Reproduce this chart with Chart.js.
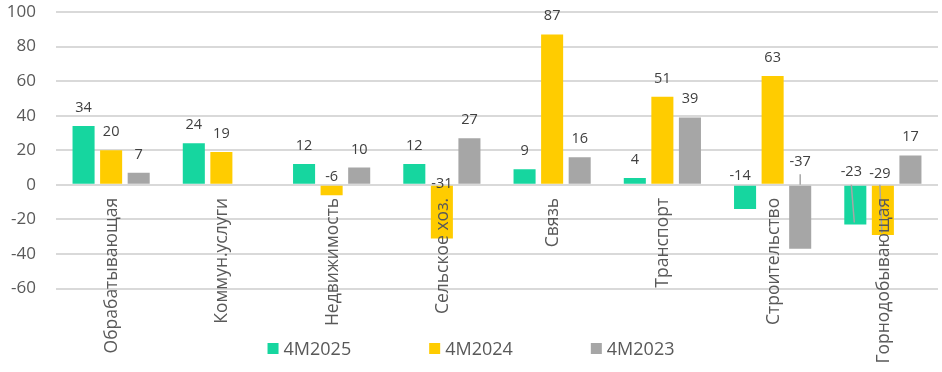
<!DOCTYPE html>
<html lang="ru">
<head>
    <meta charset="UTF-8">
    <title>4M2025 / 4M2024 / 4M2023</title>
    <style>
        * { box-sizing: border-box; margin: 0; padding: 0; }
        body { background: #ffffff; width: 942px; height: 372px; overflow: hidden; }
        .wrap { position: relative; width: 942px; height: 372px; }
    </style>
</head>
<body>
<div class="wrap">
    <canvas id="chart" width="942" height="372"></canvas>
</div>

<script src="https://cdn.jsdelivr.net/npm/chart.js"></script>
<script>
    // Data
    const categories = ['Обрабатывающая', 'Коммун.услуги', 'Недвижимость', 'Сельское хоз.', 'Связь', 'Транспорт', 'Строительство', 'Горнодобывающая'];
    const seriesNames = ['4M2025', '4M2024', '4M2023'];
    const values2025 = [34, 24, 12, 12, 9, 4, -14, -23];
    const values2024 = [20, 19, -6, -31, 87, 51, 63, -29];
    const values2023 = [7, null, 10, 27, 16, 39, -37, 17];
    const yTicks = [-60, -40, -20, 0, 20, 40, 60, 80, 100];

    const colors = ['#16D69F', '#FFCC00', '#A6A6A6'];
    const FONT = '"Open Sans", "Liberation Sans", sans-serif';
    const textGrey = '#595959';

    // hand-placed labels for negative bars (series-category)
    const labelNudge = {
        '1-2': { dy: -3.5 },
        '1-3': { dy: 3.5 },
        '0-6': { dy: -4.5, dx: -5 },
        '2-6': { dy: -18.5, leader: 'up' },
        '0-7': { dy: -8.5, dx: -4, leader: 'slant' },
        '1-7': { dy: -6.5, dx: -3, leader: 'slant' }
    };

    const barLabels = {
        id: 'barLabels',
        afterDatasetsDraw(chart) {
            const ctx = chart.ctx;
            const zero = chart.scales.y.getPixelForValue(0);
            ctx.save();
            ctx.font = '14.5px ' + FONT;
            ctx.textAlign = 'center';
            ctx.textBaseline = 'alphabetic';
            chart.data.datasets.forEach((ds, si) => {
                const meta = chart.getDatasetMeta(si);
                meta.data.forEach((bar, ci) => {
                    const v = ds.data[ci];
                    if (v === null || v === undefined) return;
                    const n = labelNudge[si + '-' + ci] || {};
                    const x = bar.x + (n.dx || 0);
                    let y;
                    if (v >= 0) {
                        y = bar.y - 14;
                    } else {
                        y = zero + (n.dy !== undefined ? n.dy : -4);
                    }
                    ctx.fillStyle = '#404040';
                    ctx.fillText(String(v), x, y);
                    if (n.leader) {
                        ctx.strokeStyle = '#A6A6A6';
                        ctx.lineWidth = 1.5;
                        ctx.beginPath();
                        if (n.leader === 'up') {
                            ctx.moveTo(bar.x, y + 8);
                            ctx.lineTo(bar.x, zero);
                        } else {
                            ctx.moveTo(x, zero);
                            ctx.lineTo(bar.x - 1, bar.y - 2);
                        }
                        ctx.stroke();
                    }
                });
            });

            // category labels, rotated, hanging under the zero line
            ctx.font = '17.5px ' + FONT;
            ctx.fillStyle = textGrey;
            ctx.textAlign = 'right';
            ctx.textBaseline = 'middle';
            const xs = chart.scales.x;
            categories.forEach((c, i) => {
                const px = xs.getPixelForValue(i);
                ctx.save();
                ctx.translate(px + 1, zero + 13);
                ctx.rotate(-Math.PI / 2);
                ctx.fillText(c, 0, 0);
                ctx.restore();
            });
            ctx.restore();
        },
        afterDraw(chart) {
            // legend along the bottom
            const ctx = chart.ctx;
            ctx.save();
            ctx.font = '18px ' + FONT;
            ctx.textBaseline = 'middle';
            ctx.textAlign = 'left';
            const box = 11, gapText = 5, gapItem = 78;
            const widths = seriesNames.map(s => box + gapText + ctx.measureText(s).width);
            const total = widths.reduce((a, b) => a + b, 0) + gapItem * (seriesNames.length - 1);
            let x = chart.width / 2 - total / 2;
            const cy = 348.5;
            seriesNames.forEach((s, i) => {
                ctx.fillStyle = colors[i];
                ctx.fillRect(x, cy - box / 2, box, box);
                ctx.fillStyle = textGrey;
                ctx.fillText(s, x + box + gapText, cy + 1);
                x += widths[i] + gapItem;
            });
            ctx.restore();
        }
    };

    const ctx = document.getElementById('chart').getContext('2d');
    new Chart(ctx, {
        type: 'bar',
        data: {
            labels: categories,
            datasets: [
                { label: seriesNames[0], data: values2025, backgroundColor: colors[0] },
                { label: seriesNames[1], data: values2024, backgroundColor: colors[1] },
                { label: seriesNames[2], data: values2023, backgroundColor: colors[2] }
            ]
        },
        options: {
            responsive: false,
            animation: false,
            layout: { padding: { top: 12, left: 6, right: 4, bottom: 83.5 } },
            datasets: {
                bar: { categoryPercentage: 0.75, barPercentage: 0.8 }
            },
            plugins: {
                legend: { display: false },
                tooltip: { enabled: false }
            },
            scales: {
                x: {
                    grid: { display: false, drawTicks: false },
                    border: { display: false },
                    ticks: { display: false },
                    afterFit(scale) { scale.height = 0; }
                },
                y: {
                    min: yTicks[0],
                    max: yTicks[yTicks.length - 1],
                    afterBuildTicks(scale) {
                        scale.ticks = yTicks.map(v => ({ value: v }));
                    },
                    afterFit(scale) {
                        scale.width = 50;
                        scale.paddingTop = 11;
                        scale.paddingBottom = 11;
                    },
                    grid: { color: '#D9D9D9', lineWidth: 2, drawTicks: false },
                    border: { display: false },
                    ticks: {
                        padding: 20,
                        color: textGrey,
                        font: { family: FONT, size: 17 }
                    }
                }
            }
        },
        plugins: [barLabels]
    });
</script>
</body>
</html>
